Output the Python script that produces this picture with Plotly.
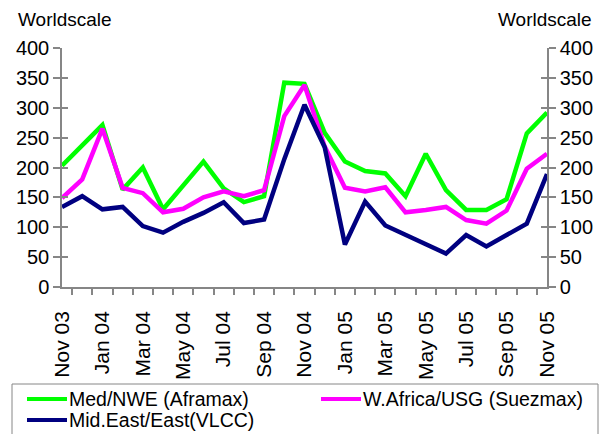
import plotly.graph_objects as go

months = ["Nov 03", "Dec 03", "Jan 04", "Feb 04", "Mar 04", "Apr 04", "May 04", "Jun 04",
          "Jul 04", "Aug 04", "Sep 04", "Oct 04", "Nov 04", "Dec 04", "Jan 05", "Feb 05",
          "Mar 05", "Apr 05", "May 05", "Jun 05", "Jul 05", "Aug 05", "Sep 05", "Oct 05", "Nov 05"]

med_nwe = [203, 237, 271, 163, 200, 130, 170, 210, 165, 142, 152, 342, 340,
           258, 210, 194, 190, 152, 223, 162, 129, 129, 147, 257, 292]
wafrica_usg = [149, 180, 265, 166, 157, 125, 131, 150, 160, 152, 162, 286, 338,
               235, 166, 160, 167, 125, 129, 134, 112, 106, 128, 198, 223]
mideast_east = [134, 152, 130, 134, 102, 91, 109, 124, 142, 107, 113, 214, 305,
                234, 71, 143, 103, 87, 71, 56, 87, 68, 87, 106, 189]

series_names = ["Med/NWE (Aframax)", "W.Africa/USG (Suezmax)", "Mid.East/East(VLCC)"]
series_colors = ["#00FF00", "#FF00FF", "#000080"]

# only every other month gets a label, but every month gets a tick
tick_text = [m if i % 2 == 0 else "" for i, m in enumerate(months)]

font = "Liberation Sans, Arial, sans-serif"
axis_col = "#868686"
W, H = 609, 434

fig = go.Figure()
for name, vals, col in zip(series_names, [med_nwe, wafrica_usg, mideast_east], series_colors):
    fig.add_trace(go.Scatter(x=months, y=vals, mode="lines", name=name,
                             line=dict(color=col, width=4.5)))

# invisible copies so the extra y axes (right scale, crossing ticks) get drawn
for ax in ["y2", "y3", "y4"]:
    fig.add_trace(go.Scatter(x=months, y=mideast_east, mode="lines", yaxis=ax,
                             line=dict(color="rgba(0,0,0,0)"), showlegend=False,
                             hoverinfo="skip"))

yax = dict(range=[0, 400], dtick=50, tick0=0, showgrid=False, zeroline=False,
           showline=True, linecolor=axis_col, linewidth=1.5, automargin=False,
           ticks="outside", ticklen=7, tickcolor=axis_col, tickwidth=1.5,
           tickfont=dict(size=20, color="black", family=font))
inner = dict(range=[0, 400], dtick=50, tick0=0, overlaying="y", anchor="x",
             showticklabels=False, showline=False, showgrid=False, zeroline=False,
             automargin=False, ticks="inside", ticklen=6, tickcolor=axis_col, tickwidth=1.5)


# plot area in pixels: x 62..547, y 48..287
def px_x(px):
    return (px - 62) / 485


def px_y(py):
    return (287 - py) / 239


# legend drawn by hand: box, line samples and labels (2 columns)
shapes = [dict(type="rect", xref="paper", yref="paper", x0=px_x(12), x1=px_x(598),
               y0=px_y(384), y1=px_y(445), line=dict(color=axis_col, width=1),
               fillcolor="rgba(0,0,0,0)", layer="below")]
annotations = [
    dict(text="Worldscale", xref="paper", yref="paper", x=px_x(16), y=px_y(20),
         xanchor="left", yanchor="middle", showarrow=False, font=dict(size=19)),
    dict(text="Worldscale", xref="paper", yref="paper", x=px_x(594), y=px_y(20),
         xanchor="right", yanchor="middle", showarrow=False, font=dict(size=19)),
]
slots = [(27, 399), (321, 399), (27, 420)]
for name, col, (lx, ly) in zip(series_names, series_colors, slots):
    shapes.append(dict(type="line", xref="paper", yref="paper", x0=px_x(lx), x1=px_x(lx + 40),
                       y0=px_y(ly), y1=px_y(ly), line=dict(color=col, width=4)))
    annotations.append(dict(text=name, xref="paper", yref="paper", x=px_x(lx + 42), y=px_y(ly),
                            xanchor="left", yanchor="middle", showarrow=False,
                            font=dict(size=19.5), xshift=-2))

fig.update_layout(
    width=W, height=H,
    margin=dict(l=62, r=62, t=48, b=147),
    paper_bgcolor="white", plot_bgcolor="white",
    font=dict(family=font, size=19, color="black"),
    showlegend=False,
    xaxis=dict(type="category", tickvals=months, ticktext=tick_text, tickson="boundaries",
               tickangle=-90, showgrid=False, zeroline=False, showline=True,
               linecolor=axis_col, linewidth=1.5, ticks="outside", ticklen=6,
               tickcolor=axis_col, tickwidth=1.5, automargin=False, ticklabelstandoff=14,
               tickfont=dict(size=21, color="black", family=font)),
    yaxis=yax,
    yaxis2=dict(yax, overlaying="y", side="right", anchor="x"),
    yaxis3=dict(inner, side="left"),
    yaxis4=dict(inner, side="right"),
    shapes=shapes,
    annotations=annotations,
)

fig.write_html("out.html", config={"displayModeBar": False},
               post_script="document.body.style.margin='0px';")
